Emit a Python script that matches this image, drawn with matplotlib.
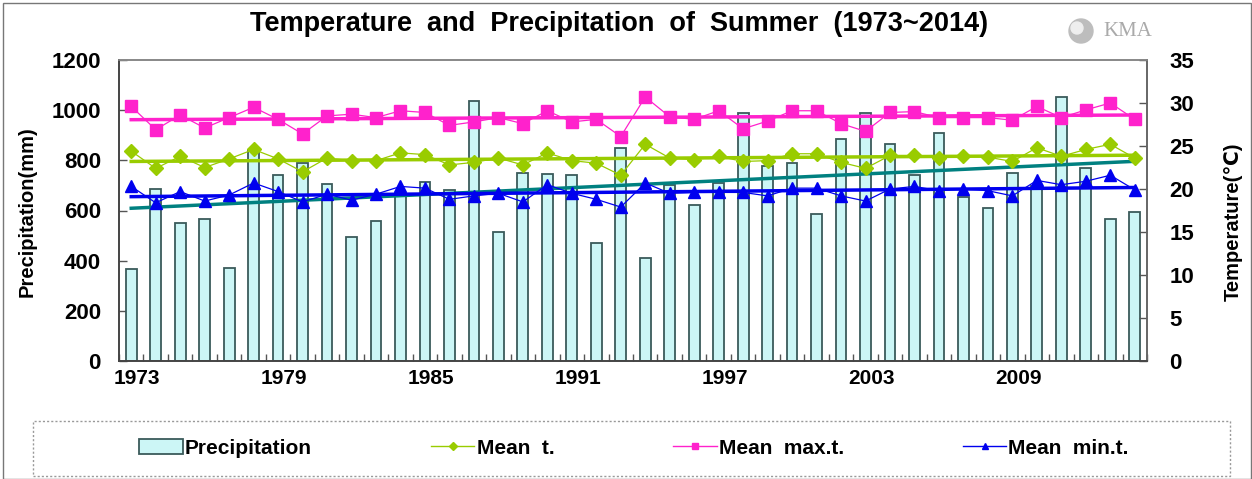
import matplotlib
matplotlib.use("Agg")
import matplotlib.pyplot as plt
import numpy as np
from matplotlib.patches import Rectangle, Patch
from matplotlib.lines import Line2D

years = list(range(1973, 2015))
precip = [365, 687, 549, 565, 369, 841, 743, 791, 707, 493, 560,
          662, 715, 682, 1037, 516, 751, 746, 743, 469, 848, 409,
          702, 621, 711, 990, 777, 788, 585, 886, 990, 865, 742,
          910, 653, 609, 751, 698, 1051, 768, 565, 595]
mean_t = [24.4, 22.4, 23.8, 22.5, 23.5, 24.6, 23.5, 22.0, 23.6, 23.3, 23.3,
          24.2, 24.0, 22.8, 23.1, 23.6, 22.8, 24.2, 23.3, 23.0, 21.6, 25.2,
          23.6, 23.4, 23.8, 23.2, 23.3, 24.1, 24.1, 23.1, 22.4, 23.9, 23.9,
          23.6, 23.8, 23.7, 23.2, 24.8, 23.8, 24.6, 25.2, 23.6]
mean_max = [29.6, 26.9, 28.6, 27.1, 28.3, 29.5, 28.1, 26.4, 28.5, 28.7, 28.3,
            29.1, 28.9, 27.4, 27.8, 28.3, 27.6, 29.1, 27.8, 28.1, 26.1, 30.7,
            28.4, 28.1, 29.1, 27.0, 27.9, 29.1, 29.1, 27.6, 26.7, 28.9, 29.0,
            28.3, 28.3, 28.3, 28.0, 29.6, 28.3, 29.2, 30.0, 28.1]
mean_min = [20.3, 18.4, 19.7, 18.6, 19.3, 20.7, 19.7, 18.5, 19.4, 18.7, 19.4,
            20.3, 20.1, 18.8, 19.2, 19.5, 18.5, 20.5, 19.5, 18.8, 17.9, 20.7,
            19.5, 19.6, 19.6, 19.6, 19.2, 20.1, 20.1, 19.2, 18.6, 20.0, 20.3,
            19.8, 20.0, 19.8, 19.2, 21.0, 20.5, 20.9, 21.6, 19.9]
xtick_labels = ["1973", "1979", "1985", "1991", "1997", "2003", "2009"]

C_BAR = "#ccf6f6"
C_EDGE = "#3a5a5a"
C_MEAN = "#99cc00"
C_MAX = "#ff22cc"
C_MIN = "#0000ee"
C_TREND = "#008080"

BOLD = ["Liberation Sans", "DejaVu Sans"]

fig = plt.figure(figsize=(12.52, 4.79), dpi=100)
W, H = 1252, 479
ax = fig.add_axes([119 / W, 1 - 361 / H, (1147 - 119) / W, (361 - 60) / H])
ax2 = ax.twinx()

x = np.arange(len(years))
ax.bar(x, precip, width=0.44, color=C_BAR, edgecolor=C_EDGE, linewidth=1.3, zorder=2)
p = np.polyfit(x, precip, 1)
ax.plot(x, np.polyval(p, x), color=C_TREND, lw=2.5, zorder=3)

ax.set_xlim(-0.5, len(years) - 0.5)
ax.set_ylim(0, 1200)
ax.set_yticks(range(0, 1201, 200))
ax2.set_ylim(0, 35)
ax2.set_yticks(range(0, 36, 5))

series = [(mean_t, C_MEAN, "D", 7), (mean_max, C_MAX, "s", 8), (mean_min, C_MIN, "^", 8)]
for vals, c, m, ms in series:
    ax2.plot(x, vals, color=c, lw=0.9, marker=m, ms=ms, mec=c, mfc=c, zorder=4)
    pp = np.polyfit(x, vals, 1)
    ax2.plot(x, np.polyval(pp, x), color=c, lw=2.5, zorder=5)

ax.set_xticks(np.arange(-0.5, len(years) + 0.5, 1))
ax.set_xticklabels([])
ax.tick_params(axis="x", which="major", direction="in", length=5, width=1, color="#555555")
ax.set_xticks(np.arange(0, len(years), 6) + 0.25, minor=True)
ax.set_xticklabels(xtick_labels, minor=True)
ax.tick_params(axis="x", which="minor", length=0, pad=6)
for t in ax.get_xticklabels(minor=True):
    t.set_fontfamily(BOLD); t.set_fontweight("bold"); t.set_fontsize(15)

ax.tick_params(axis="y", direction="in", length=6, width=1, color="#555555", pad=13)
for t in ax.get_yticklabels():
    t.set_fontfamily(BOLD); t.set_fontweight("bold"); t.set_fontsize(16)
ax2.tick_params(axis="y", direction="in", length=6, width=1, color="#555555", pad=16)
for t in ax2.get_yticklabels():
    t.set_fontfamily(BOLD); t.set_fontweight("bold"); t.set_fontsize(16)

for a in (ax, ax2):
    a.spines["left"].set_color("#444444")
    a.spines["bottom"].set_color("#444444")
    a.spines["right"].set_color("#666666")
    a.spines["top"].set_color("#888888")
    for s in a.spines.values():
        s.set_linewidth(1.2)

fig.text(27 / W, 1 - 212 / H, "Precipitation(mm)", rotation=90, ha="center", va="center",
         fontsize=14.5, family=BOLD, fontweight="bold")
fig.text(1233 / W, 1 - 222 / H, "Temperature(\u2103)", rotation=90, ha="center", va="center",
         fontsize=14.5, family=["Liberation Sans", "DejaVu Sans"], fontweight="bold")

fig.text(619 / W, 1 - 24 / H, "Temperature  and  Precipitation  of  Summer  (1973~2014)",
         ha="center", va="center", fontsize=19.5, family=BOLD, fontweight="bold")

# KMA logo
fig.patches.append(plt.Circle((1081, H - 31), 12, transform=None, color="#bdbdbd", zorder=10))
fig.patches.append(plt.Circle((1077, H - 28), 6, transform=None, color="#eeeeee", zorder=11))
fig.text(1128 / W, 1 - 31 / H, "KMA", ha="center", va="center", fontsize=15,
         family=["Liberation Serif", "DejaVu Serif"], color="#aaaaaa")

# legend box
fig.patches.append(Rectangle((33 / W, 1 - 476 / H), (1230 - 33) / W, (476 - 421) / H,
                             transform=fig.transFigure, fill=False, edgecolor="#999999",
                             linestyle=(0, (1.5, 1.5)), linewidth=1))
handles = [Patch(facecolor=C_BAR, edgecolor=C_EDGE, linewidth=1.3),
           Line2D([], [], color=C_MEAN, lw=1, marker="D", ms=4),
           Line2D([], [], color=C_MAX, lw=1, marker="s", ms=5),
           Line2D([], [], color=C_MIN, lw=1, marker="^", ms=5)]
labels = ["Precipitation", "Mean  t.", "Mean  max.t.", "Mean  min.t."]
leg = fig.legend(handles, labels, loc="center", bbox_to_anchor=(634 / W, 1 - 448 / H),
                 ncol=4, frameon=False, handlelength=2.1, handletextpad=0.1,
                 columnspacing=5.7, prop={"family": BOLD, "weight": "bold", "size": 15})

fig.patches.append(Rectangle((3 / W, 0), (W - 4) / W, (H - 3) / H, transform=fig.transFigure,
                             fill=False, edgecolor="#777777", linewidth=1))

fig.savefig("out.png", dpi=100)
